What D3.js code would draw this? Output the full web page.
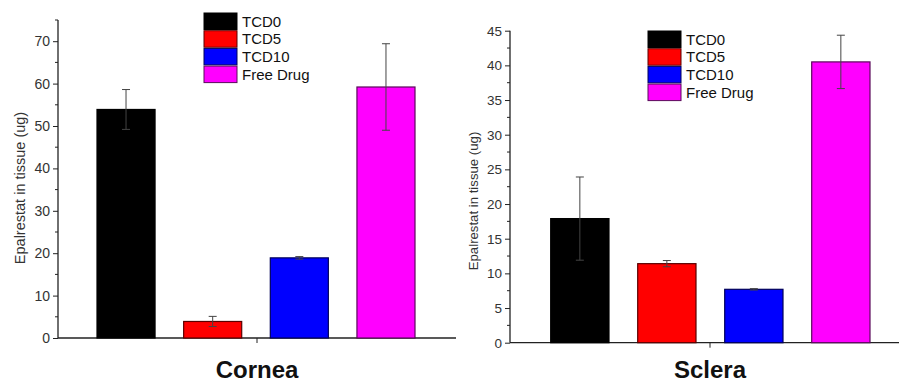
<!DOCTYPE html>
<html>
<head>
<meta charset="utf-8">
<script src="https://cdn.jsdelivr.net/npm/d3@7"></script>
<style>
  body { margin: 0; background: #fff; }
  svg { display: block; font-family: Arial, "Liberation Sans", sans-serif; }
</style>
</head>
<body>
<div id="chart"></div>
<script>
// groups and colours shared by both panels
let groups = ['TCD0', 'TCD5', 'TCD10', 'Free Drug']
let colors = ['#000000', '#ff0000', '#0000ff', '#ff00ff']
let strokes = ['#000000', '#5a0000', '#00005a', '#5a0a5a']

// cornea panel
let corneaMeans = [53.9, 3.9, 18.9, 59.2]
let corneaErrors = [4.7, 1.2, 0.3, 10.2]
let corneaTicks = [0, 10, 20, 30, 40, 50, 60, 70]

// sclera panel
let scleraMeans = [17.9, 11.4, 7.7, 40.5]
let scleraErrors = [6.0, 0.45, 0.1, 3.85]
let scleraTicks = [0, 5, 10, 15, 20, 25, 30, 35, 40, 45]

let svg = d3.select('#chart')
  .append('svg')
  .attr('width', 899)
  .attr('height', 383)
  .style('background-color', '#FFFFFF')

function panel(opts) {
  let g = svg.append('g')

  let y = d3.scaleLinear().domain([0, opts.max]).range([opts.y0, opts.y1])
  let x = d3.scaleBand().domain(groups).range([opts.bandStart, opts.bandEnd]).paddingInner(0.33).paddingOuter(0)

  // y axis, major ticks with labels
  g.append('g')
    .attr('transform', 'translate(' + opts.x0 + ',0)')
    .call(d3.axisLeft(y).tickValues(opts.ticks).tickSize(5).tickSizeOuter(0).tickPadding(3))
    .call(function(a) {
      a.select('.domain').remove()
      a.selectAll('text').attr('font-size', opts.tickFont).attr('fill', '#333')
      a.selectAll('line').attr('stroke', '#222')
    })

  // minor ticks
  let minors = d3.range(opts.minor, opts.max + 0.001, opts.minor).filter(function(v) {
    return opts.ticks.indexOf(v) < 0
  })
  g.selectAll('.minor')
    .data(minors)
    .enter().append('line')
    .attr('x1', opts.x0 - 3).attr('x2', opts.x0)
    .attr('y1', function(d) { return y(d) }).attr('y2', function(d) { return y(d) })
    .attr('stroke', '#222')

  // y axis line
  g.append('line')
    .attr('x1', opts.x0).attr('x2', opts.x0)
    .attr('y1', y(opts.max)).attr('y2', y(0))
    .attr('stroke', '#222').attr('stroke-width', 1.3)

  // x axis line + middle tick
  g.append('line')
    .attr('x1', opts.x0).attr('x2', opts.xEnd)
    .attr('y1', y(0)).attr('y2', y(0))
    .attr('stroke', '#222').attr('stroke-width', 1.3)
  g.append('line')
    .attr('x1', opts.mid).attr('x2', opts.mid)
    .attr('y1', y(0)).attr('y2', y(0) + 5)
    .attr('stroke', '#222')

  // bars
  g.selectAll('.bar')
    .data(opts.means)
    .enter().append('rect')
    .attr('x', function(d, i) { return x(groups[i]) })
    .attr('width', x.bandwidth())
    .attr('y', function(d) { return y(d) })
    .attr('height', function(d) { return y(0) - y(d) })
    .attr('fill', function(d, i) { return colors[i] })
    .attr('stroke', function(d, i) { return strokes[i] })
    .attr('stroke-width', 1.2)

  // error bars
  let eb = g.selectAll('.err')
    .data(opts.means)
    .enter().append('g')
    .attr('stroke', '#444').attr('stroke-width', 1)
  eb.append('line')
    .attr('x1', function(d, i) { return x(groups[i]) + x.bandwidth() / 2 })
    .attr('x2', function(d, i) { return x(groups[i]) + x.bandwidth() / 2 })
    .attr('y1', function(d, i) { return y(d - opts.errors[i]) })
    .attr('y2', function(d, i) { return y(d + opts.errors[i]) })
  eb.append('line')
    .attr('x1', function(d, i) { return x(groups[i]) + x.bandwidth() / 2 - 4 })
    .attr('x2', function(d, i) { return x(groups[i]) + x.bandwidth() / 2 + 4 })
    .attr('y1', function(d, i) { return y(d + opts.errors[i]) })
    .attr('y2', function(d, i) { return y(d + opts.errors[i]) })
  eb.append('line')
    .attr('x1', function(d, i) { return x(groups[i]) + x.bandwidth() / 2 - 4 })
    .attr('x2', function(d, i) { return x(groups[i]) + x.bandwidth() / 2 + 4 })
    .attr('y1', function(d, i) { return y(d - opts.errors[i]) })
    .attr('y2', function(d, i) { return y(d - opts.errors[i]) })

  // y axis title
  g.append('text')
    .attr('transform', 'translate(' + opts.labelX + ',' + opts.labelY + ') rotate(-90)')
    .attr('text-anchor', 'middle')
    .attr('dy', '.35em')
    .attr('font-size', opts.labelFont)
    .attr('fill', '#333')
    .text('Epalrestat in tissue (ug)')

  // panel name
  g.append('text')
    .attr('x', opts.mid)
    .attr('y', 378)
    .attr('text-anchor', 'middle')
    .attr('font-size', 24)
    .attr('font-weight', 'bold')
    .attr('fill', '#111')
    .text(opts.name)

  // legend
  let legend = g.selectAll('.legend')
    .data(groups)
    .enter().append('g')
    .attr('transform', function(d, i) { return 'translate(' + opts.legX + ',' + (opts.legY + i * 17.7) + ')' })
  legend.append('rect')
    .attr('width', 33).attr('height', 16.5)
    .attr('fill', function(d, i) { return colors[i] })
    .attr('stroke', function(d, i) { return strokes[i] })
    .attr('stroke-width', 1)
  legend.append('text')
    .attr('x', 38).attr('y', 8.5)
    .attr('dy', '.35em')
    .attr('font-size', 15)
    .attr('fill', '#111')
    .text(function(d) { return d })
}

panel({
  name: 'Cornea', means: corneaMeans, errors: corneaErrors, ticks: corneaTicks,
  max: 75, minor: 5, y0: 338, y1: 20,
  x0: 58, xEnd: 456, mid: 257, bandStart: 97, bandEnd: 415,
  labelX: 20, labelY: 188, labelFont: 14.5, tickFont: 14,
  legX: 204, legY: 13
})

panel({
  name: 'Sclera', means: scleraMeans, errors: scleraErrors, ticks: scleraTicks,
  max: 45, minor: 2.5, y0: 342.7, y1: 30.7,
  x0: 510, xEnd: 910, mid: 710, bandStart: 550.7, bandEnd: 870,
  labelX: 473, labelY: 201, labelFont: 13.2, tickFont: 13.5,
  legX: 648, legY: 31
})
</script>
</body>
</html>
